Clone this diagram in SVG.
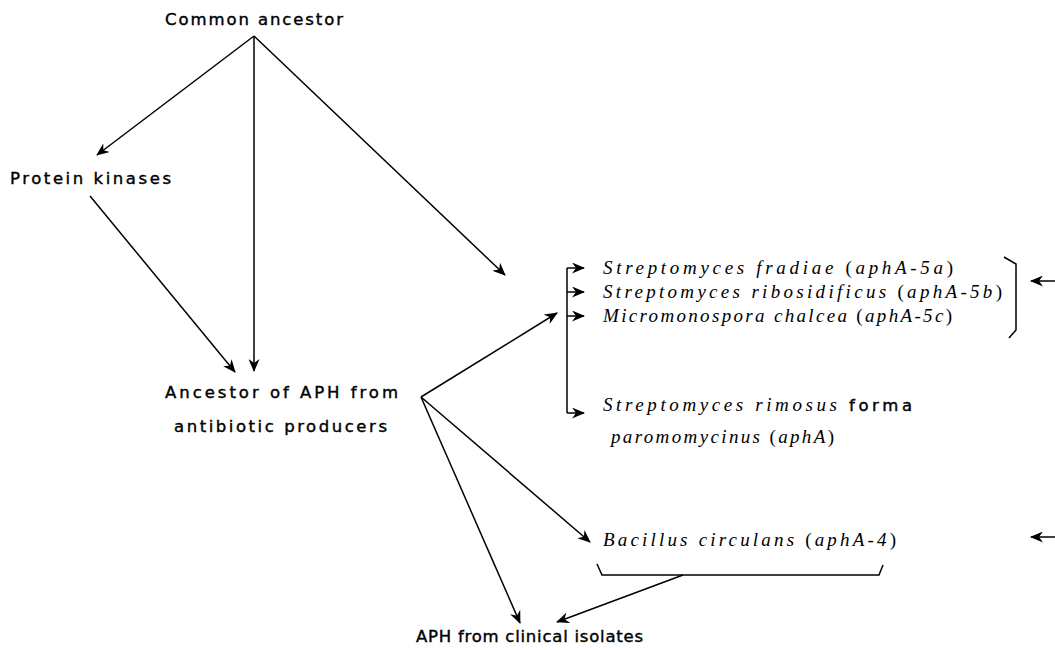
<svg xmlns="http://www.w3.org/2000/svg" width="1055" height="650" viewBox="0 0 1055 650">
<style>
.sans{font-family:"DejaVu Sans","Liberation Sans",sans-serif;font-size:16.5px;fill:#000;stroke:#000;stroke-width:0.4}
.it{font-family:"Liberation Serif","DejaVu Serif",serif;font-size:19px;font-style:italic;fill:#000}
.up{font-style:normal}
.fb{font-family:"DejaVu Sans","Liberation Sans",sans-serif;font-style:normal;font-size:16.5px;stroke:#000;stroke-width:0.4}
.ln{fill:none;stroke:#000;stroke-width:1.5}
.ar{marker-end:url(#ah)}
</style>
<defs>
<marker id="ah" viewBox="0 0 13 11" refX="12" refY="5.5" markerWidth="13" markerHeight="11" markerUnits="userSpaceOnUse" orient="auto">
<path d="M0,0 L13,5.5 L0,11 L4,5.5 Z" fill="#000"/>
</marker>
</defs>
<rect width="1055" height="650" fill="#fff"/>
<g id="connectors">
<path class="ln ar" d="M254,36 L97,155"/>
<path class="ln ar" d="M254,36 L254,371"/>
<path class="ln ar" d="M254,36 L505,275"/>
<path class="ln ar" d="M90,196 L235,372"/>
<path class="ln ar" d="M421,397 L557,313"/>
<path class="ln ar" d="M421,397 L590,542"/>
<path class="ln ar" d="M421,397 L520,623"/>
<path class="ln" d="M567,268 L567,413"/>
<path class="ln ar" d="M567,268 L584,268"/>
<path class="ln ar" d="M567,292 L584,292"/>
<path class="ln ar" d="M567,316 L584,316"/>
<path class="ln ar" d="M567,413 L584,413"/>
<path class="ln" d="M1004,257 L1016,264 L1016,330 L1009,338"/>
<path class="ln ar" d="M1055,281 L1031,281"/>
<path class="ln ar" d="M1055,537 L1031,537"/>
<path class="ln" d="M597,564 L602,575 L879,575 L883,565"/>
<path class="ln ar" d="M683,575 L557,622"/>
</g>
<g id="common-ancestor"><text class="sans" x="165" y="25" textLength="178" lengthAdjust="spacing">Common ancestor</text></g>
<g id="protein-kinases"><text class="sans" x="10" y="184" textLength="161" lengthAdjust="spacing">Protein kinases</text></g>
<g id="ancestor-aph">
<text class="sans" x="165" y="398" textLength="233" lengthAdjust="spacing">Ancestor of APH from</text>
<text class="sans" x="174" y="432" textLength="213" lengthAdjust="spacing">antibiotic producers</text>
</g>
<g id="aph-clinical"><text class="sans" x="416" y="642" textLength="227" lengthAdjust="spacing">APH from clinical isolates</text></g>
<g id="s-fradiae"><text class="it" x="603" y="274" textLength="350" lengthAdjust="spacing">Streptomyces fradiae <tspan class="up">(</tspan>aphA-5a<tspan class="up">)</tspan></text></g>
<g id="s-ribosidificus"><text class="it" x="603" y="298" textLength="399" lengthAdjust="spacing">Streptomyces ribosidificus <tspan class="up">(</tspan>aphA-5b<tspan class="up">)</tspan></text></g>
<g id="m-chalcea"><text class="it" x="603" y="322" textLength="349" lengthAdjust="spacing">Micromonospora chalcea <tspan class="up">(</tspan>aphA-5c<tspan class="up">)</tspan></text></g>
<g id="s-rimosus">
<text class="it" x="603" y="411" textLength="309" lengthAdjust="spacing">Streptomyces rimosus <tspan class="fb">forma</tspan></text>
<text class="it" x="611" y="443" textLength="223" lengthAdjust="spacing">paromomycinus <tspan class="up">(</tspan>aphA<tspan class="up">)</tspan></text>
</g>
<g id="b-circulans"><text class="it" x="603" y="546" textLength="293" lengthAdjust="spacing">Bacillus circulans <tspan class="up">(</tspan>aphA-4<tspan class="up">)</tspan></text></g>
</svg>
